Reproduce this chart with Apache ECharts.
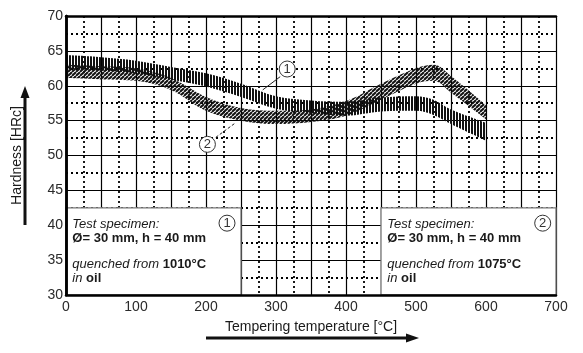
<!DOCTYPE html>
<html lang="en">
<head>
<meta charset="UTF-8"/>
<title>tempering hardness</title>
<script src="https://cdn.jsdelivr.net/npm/echarts@6/dist/echarts.min.js"></script>
<style>
  html, body { margin: 0; padding: 0; background: #fff; }
  #main { width: 583px; height: 353px; }
</style>
</head>
<body>
<div id="main"></div>
<script type="text/javascript">
// tempering temperatures [°C] where the bands were read
var temps = [0, 50, 100, 150, 200, 250, 300, 350, 400, 450, 500, 525, 550, 600];
// band 1 : quenched from 1010°C (vertical hatch)
var band1Low  = [62.4, 62.2, 61.8, 60.9, 59.9, 58.4, 56.7, 56.1, 55.7, 56.3, 56.4, 55.8, 54.5, 52.1];
var band1High = [64.4, 64.1, 63.6, 62.7, 61.8, 60.3, 58.5, 57.9, 57.7, 58.3, 58.5, 58.0, 56.6, 54.7];
// band 2 : quenched from 1075°C (diagonal hatch)
var band2Low  = [61.1, 60.9, 60.7, 59.4, 56.4, 55.0, 54.5, 54.8, 55.7, 58.0, 60.3, 60.7, 59.0, 55.2];
var band2High = [63.0, 62.8, 62.5, 61.1, 58.4, 56.8, 56.4, 56.6, 57.8, 60.3, 62.5, 63.0, 61.4, 57.2];
var xTickLabels = [0, 100, 200, 300, 400, 500, 600, 700];
var quenchTemps = ['1010', '1075'];

var FONT = 'Liberation Sans, Arial, sans-serif';
var INK = '#1a1a1a';

function hatch(kind) {
    var c = document.createElement('canvas');
    var ctx;
    if (kind === 'vertical') {
        c.width = 3; c.height = 3;
        ctx = c.getContext('2d');
        ctx.fillStyle = '#111';
        ctx.fillRect(0, 0, 2, 3);
    } else {
        c.width = 4; c.height = 4;
        ctx = c.getContext('2d');
        ctx.strokeStyle = '#111';
        ctx.lineWidth = 2;
        [0, 4, 8].forEach(function (k) {
            ctx.beginPath();
            ctx.moveTo(k - 4, 4);
            ctx.lineTo(k, 0);
            ctx.stroke();
        });
    }
    return { image: c, repeat: 'repeat' };
}

// rows are [value, temperature] so that the stack runs on the hardness dimension
function rows(vals) {
    return temps.map(function (t, i) { return [vals[i], t]; });
}
function widths(lo, hi) {
    return temps.map(function (t, i) { return [+(hi[i] - lo[i]).toFixed(2), t]; });
}

var myChart = echarts.init(document.getElementById('main'));

var frameLine = { show: true, lineStyle: { color: '#000', width: 2.5 } };
var hidden = { show: false };

var option = {
    animation: false,
    grid: { left: 66, top: 16, width: 490, height: 279 },
    xAxis: [
        {
            type: 'value', min: 0, max: 700, interval: 50, position: 'bottom', z: 0,
            name: 'Tempering temperature [°C]', nameLocation: 'middle', nameGap: 25,
            nameTextStyle: { fontFamily: FONT, fontSize: 14, color: INK },
            axisLine: hidden, axisTick: hidden,
            axisLabel: {
                margin: 5, fontFamily: FONT, fontSize: 14, color: '#2a2a2a',
                formatter: function (v) { return xTickLabels.indexOf(v) >= 0 ? String(v) : ''; }
            },
            splitLine: { show: true, lineStyle: { color: '#000', width: 1.2 } },
            minorTick: { show: false, splitNumber: 2 },
            minorSplitLine: { show: true, lineStyle: { color: '#000', width: 1.8, type: [2, 3] } }
        },
        { type: 'value', min: 0, max: 700, position: 'bottom', z: 5, axisLine: frameLine, axisTick: hidden, axisLabel: hidden, splitLine: hidden },
        { type: 'value', min: 0, max: 700, position: 'top', z: 5, axisLine: frameLine, axisTick: hidden, axisLabel: hidden, splitLine: hidden }
    ],
    yAxis: [
        {
            type: 'value', min: 30, max: 70, interval: 5, position: 'left', z: 0,
            name: 'Hardness [HRc]', nameLocation: 'middle', nameGap: 42,
            nameTextStyle: { fontFamily: FONT, fontSize: 14, color: INK },
            axisLine: hidden, axisTick: hidden,
            axisLabel: { margin: 3, fontFamily: FONT, fontSize: 14, color: '#2a2a2a' },
            splitLine: { show: true, lineStyle: { color: '#000', width: 1.2 } },
            minorTick: { show: false, splitNumber: 2 },
            minorSplitLine: { show: true, lineStyle: { color: '#000', width: 1.8, type: [2, 3] } }
        },
        { type: 'value', min: 30, max: 70, position: 'left', z: 5, axisLine: frameLine, axisTick: hidden, axisLabel: hidden, splitLine: hidden },
        { type: 'value', min: 30, max: 70, position: 'right', z: 5, axisLine: frameLine, axisTick: hidden, axisLabel: hidden, splitLine: hidden }
    ],
    graphic: [
        { type: 'line', shape: { x1: 25, y1: 225, x2: 25, y2: 95 }, style: { stroke: '#111', lineWidth: 3 } },
        { type: 'polygon', shape: { points: [[25, 86], [20.5, 98], [29.5, 98]] }, style: { fill: '#111' } },
        { type: 'line', shape: { x1: 206, y1: 338, x2: 408, y2: 338 }, style: { stroke: '#111', lineWidth: 3 } },
        { type: 'polygon', shape: { points: [[419, 338], [406, 333.5], [406, 342.5]] }, style: { fill: '#111' } }
    ],
    series: [
        {
            name: 'notes', type: 'scatter', data: [], silent: true, z: 3,
            markArea: {
                silent: true,
                itemStyle: { color: '#fff', borderColor: '#777', borderWidth: 1.3 },
                label: {
                    show: true, position: 'insideTopLeft', distance: 0, padding: [10, 0, 0, 7],
                    formatter: function (p) {
                        return '{i|Test specimen:}\n{b|Ø= 30 mm, h = 40 mm}\n{gap| }\n' +
                            '{i|quenched from }{b|' + p.name + '°C}\n{i|in }{b|oil}';
                    },
                    rich: {
                        i: { fontFamily: FONT, fontStyle: 'italic', fontSize: 13, lineHeight: 14, color: INK },
                        b: { fontFamily: FONT, fontWeight: 'bold', fontSize: 13, lineHeight: 14, color: INK },
                        gap: { fontSize: 6, lineHeight: 12 }
                    }
                },
                data: [
                    [{ name: quenchTemps[0], coord: [0, 30] }, { coord: [250, 42.5] }],
                    [{ name: quenchTemps[1], coord: [450, 30] }, { coord: [700, 42.5] }]
                ]
            },
            markLine: {
                silent: true, symbol: ['none', 'arrow'], symbolSize: [0, 7],
                lineStyle: { color: '#222', width: 1, type: 'solid' },
                label: { show: false },
                data: [
                    [{ coord: [306, 61.3] }, { coord: [281, 59.4] }],
                    [{ coord: [214, 52.6], lineStyle: { type: [3, 2] } }, { coord: [241, 54.6] }]
                ]
            },
            markPoint: {
                silent: true, symbol: 'circle', symbolSize: 16,
                itemStyle: { color: '#fff', borderColor: '#333', borderWidth: 1 },
                label: { show: true, position: 'inside', fontFamily: FONT, fontSize: 13, color: '#333',
                    formatter: function (p) { return p.name; } },
                data: [
                    { name: '1', coord: [316, 62.4] },
                    { name: '2', coord: [202, 51.6] },
                    { name: '1', coord: [230, 40.3] },
                    { name: '2', coord: [681, 40.3] }
                ]
            }
        },
        {
            name: 'band1-base', type: 'line', stack: 'b1', smooth: 0.35, symbol: 'none', silent: true,
            encode: { x: 1, y: 0 },
            lineStyle: { width: 0, opacity: 0 },
            data: rows(band1Low)
        },
        {
            name: 'band1', type: 'line', stack: 'b1', smooth: 0.35, symbol: 'none', silent: true,
            encode: { x: 1, y: 0 },
            lineStyle: { width: 0, opacity: 0 },
            areaStyle: { color: hatch('vertical'), opacity: 1 },
            data: widths(band1Low, band1High)
        },
        {
            name: 'band2-base', type: 'line', stack: 'b2', smooth: 0.35, symbol: 'none', silent: true,
            encode: { x: 1, y: 0 },
            lineStyle: { width: 0, opacity: 0 },
            data: rows(band2Low)
        },
        {
            name: 'band2', type: 'line', stack: 'b2', smooth: 0.35, symbol: 'none', silent: true,
            encode: { x: 1, y: 0 },
            lineStyle: { width: 0, opacity: 0 },
            areaStyle: { color: hatch('diagonal'), opacity: 1 },
            data: widths(band2Low, band2High)
        }
    ]
};

myChart.setOption(option);
</script>
</body>
</html>
